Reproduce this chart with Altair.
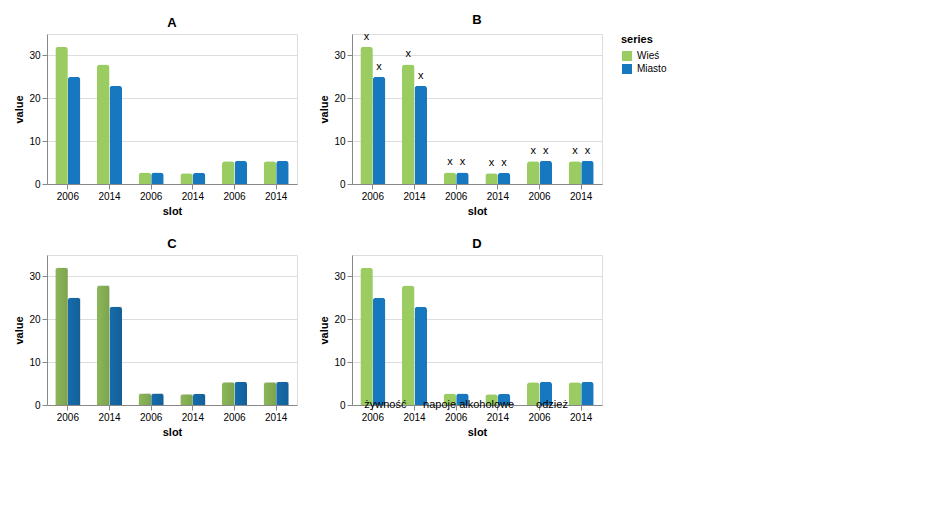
import altair as alt
import pandas as pd

categories = ["żywność", "napoje alkoholowe", "odzież"]
years = ["2006", "2014"]
series = ["Wieś", "Miasto"]
wies_2006 = [32.0, 2.7, 5.3]
wies_2014 = [27.9, 2.5, 5.3]
miasto_2006 = [25.0, 2.7, 5.4]
miasto_2014 = [22.9, 2.6, 5.4]
vals = {("Wieś", "2006"): wies_2006, ("Wieś", "2014"): wies_2014,
        ("Miasto", "2006"): miasto_2006, ("Miasto", "2014"): miasto_2014}
rows = []
for ci, cat in enumerate(categories):
    for yr in years:
        for s in series:
            rows.append({"slot": f"{ci:02d}|{yr}", "category": cat, "year": yr,
                         "series": s, "value": vals[(s, yr)][ci], "label": "x"})
df = pd.DataFrame(rows)
cat_df = pd.DataFrame({"slot": [f"{ci:02d}|2006" for ci in range(3)], "category": categories})
slot_order = [f"{ci:02d}|{yr}" for ci in range(3) for yr in years]
x_enc = alt.X("slot:N", sort=slot_order, scale=alt.Scale(paddingInner=0.4, paddingOuter=0.2),
              axis=alt.Axis(labelExpr="split(datum.value,'|')[1]", labelAngle=0))
xoff = alt.XOffset("series:N", scale=alt.Scale(domain=series, paddingInner=0, paddingOuter=0))
y_enc = alt.Y("value:Q", scale=alt.Scale(domain=[0, 35], nice=False))
base = alt.Chart(df)
bars = base.mark_bar(cornerRadiusTopLeft=3, cornerRadiusTopRight=3).encode(
    x=x_enc, xOffset=xoff, y=y_enc, color=alt.Color("series:N", scale=alt.Scale(domain=series, range=["#9BCC62", "#1878BF"])))
shade = base.mark_bar(color=alt.LinearGradient(
        gradient="linear", x1=0, x2=1, y1=0, y2=0,
        stops=[alt.GradientStop(color="rgba(0,0,0,0.10)", offset=0),
               alt.GradientStop(color="rgba(0,0,0,0.20)", offset=1)])
).encode(x=alt.X("slot:N", sort=slot_order), xOffset=xoff, y="value:Q")
labels = base.mark_text(baseline="bottom", dy=-5).encode(
    x=alt.X("slot:N", sort=slot_order), xOffset=xoff, y="value:Q", text="label:N")
cat_text = alt.Chart(cat_df).mark_text().encode(
    x=alt.X("slot:N", sort=slot_order, bandPosition=1), y=alt.value(150), text="category:N")
A = bars.properties(width=250, height=150, title="A")
B = alt.layer(bars, labels).properties(width=250, height=150, title="B")
C = alt.layer(bars, shade).properties(width=250, height=150, title="C")
D = alt.layer(bars, cat_text).properties(width=250, height=150, title="D")
chart = alt.vconcat(alt.hconcat(A, B), alt.hconcat(C, D))
chart.save("out.html", embed_options={"renderer": "svg", "actions": False})
